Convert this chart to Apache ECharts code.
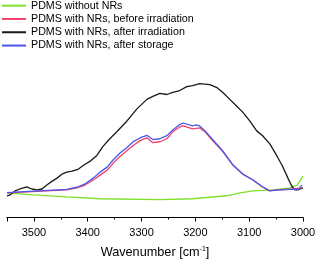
<!DOCTYPE html>
<html><head><meta charset="utf-8">
<script src="https://cdn.jsdelivr.net/npm/echarts@6/dist/echarts.min.js"></script>
<style>html,body{margin:0;padding:0;background:#fff}#c{width:321px;height:264px}</style>
</head><body><div id="c"></div>
<script>
const seriesNames = ['PDMS without NRs','PDMS with NRs, before irradiation','PDMS with NRs, after irradiation','PDMS with NRs, after storage'];
const colors = ['#7ee02a','#f2416a','#1a1a1a','#4a55e8'];
const xTicks = [3000,3100,3200,3300,3400,3500];

const greenX = [3550,3502,3439,3377,3266,3205,3142,3117,3093,3056,3024,3011,3006,3000];
const greenY = [15.6,14.4,13.1,11.9,11.3,11.9,13.8,15.6,16.9,17.5,18.8,20.6,23.1,26.3];

const redX = [3550,3439,3420,3405,3390,3377,3364,3353,3340,3327,3316,3303,3290,3279,3266,3253,3242,3229,3223,3205,3192,3182,3168,3149,3130,3112,3093,3075,3062,3043,3019,3002];
const redY = [15.6,17.5,18.8,20.6,23.8,26.9,30,34.4,38.8,42.5,45.6,48.8,50.6,47.5,48.1,50,54.4,57.5,58.1,56.3,56.9,54.4,48.8,41.9,33.1,27.5,23.8,19.4,16.9,17.5,18.1,18.8];

const blackX = [3550,3544,3535,3526,3513,3504,3494,3485,3476,3466,3457,3448,3439,3429,3418,3405,3396,3383,3372,3359,3346,3327,3309,3290,3279,3266,3253,3242,3229,3216,3205,3192,3173,3160,3149,3136,3123,3112,3099,3086,3075,3062,3049,3038,3028,3021,3015,3010,3000];
const blackY = [13.8,14.4,16.9,18.1,19.4,18.1,17.5,18.1,20.6,23.1,25,27.5,28.8,29.4,30.6,33.8,35.6,39.4,45,50,54.4,61.3,68.8,75,76.9,78.8,78.1,79.4,80.6,83.1,83.8,85,84.4,82.5,79.4,75,70.6,66.9,61.3,55,51.9,46.9,39.4,32.5,25,20,17.5,17.5,18.8];

const blueX = [3550,3439,3420,3405,3390,3377,3364,3353,3340,3327,3316,3303,3290,3279,3266,3253,3242,3229,3223,3205,3199,3192,3182,3168,3149,3130,3112,3093,3075,3062,3043,3019,3008,3002];
const blueY = [15.8,17.8,19.2,21.3,25,28.8,32,36.5,41,44.5,48,50.5,52.2,49.5,50,52,55.6,59,60,58.1,58.8,58.1,55,49.5,42.2,33.3,27.6,23.8,19.4,17,17.5,18,17.8,20.6];

const zip = (xs, ys) => xs.map((x, i) => [x, ys[i]]);
const dataSets = [zip(greenX, greenY), zip(redX, redY), zip(blackX, blackY), zip(blueX, blueY)];
const font = 'Liberation Sans, Arial, sans-serif';

const chart = echarts.init(document.getElementById('c'));
chart.setOption({
  animation: false,
  backgroundColor: '#fff',
  textStyle: {fontFamily: font},
  legend: {
    orient: 'vertical', left: 2, top: -1, itemGap: 0, padding: 0,
    itemWidth: 24, itemHeight: 2, icon: 'rect',
    textStyle: {fontSize: 10.7, color: '#000', lineHeight: 13.3, fontFamily: font},
    data: seriesNames
  },
  grid: {left: 7, right: 18, top: 60, bottom: 44},
  xAxis: {
    type: 'value', inverse: true, min: 3000, max: 3550, interval: 100,
    axisLine: {lineStyle: {color: '#000', width: 1}},
    axisTick: {length: 4, lineStyle: {color: '#000'}},
    minorTick: {show: true, splitNumber: 2, length: 2, lineStyle: {color: '#000'}},
    splitLine: {show: false},
    axisLabel: {fontSize: 11, color: '#000', margin: 10, showMaxLabel: false, fontFamily: font,
      formatter: v => xTicks.includes(v) ? String(v) : ''},
    name: '{a|Wavenumber [cm}{s|-1}{a|]}',
    nameLocation: 'middle', nameGap: 28,
    nameTextStyle: {rich: {
      a: {fontSize: 12.7, color: '#000', fontFamily: font},
      s: {fontSize: 7, color: '#000', fontFamily: font, padding: [0,0,7,0]}
    }}
  },
  yAxis: {type: 'value', min: 0, max: 100, show: false},
  series: dataSets.map((d, i) => ({
    name: seriesNames[i], type: 'line', data: d, symbol: 'none',
    lineStyle: {width: 1.3, color: colors[i]}, itemStyle: {color: colors[i]},
    z: i === 1 ? 2 : (i === 3 ? 3 : 1)
  }))
});
</script></body></html>
